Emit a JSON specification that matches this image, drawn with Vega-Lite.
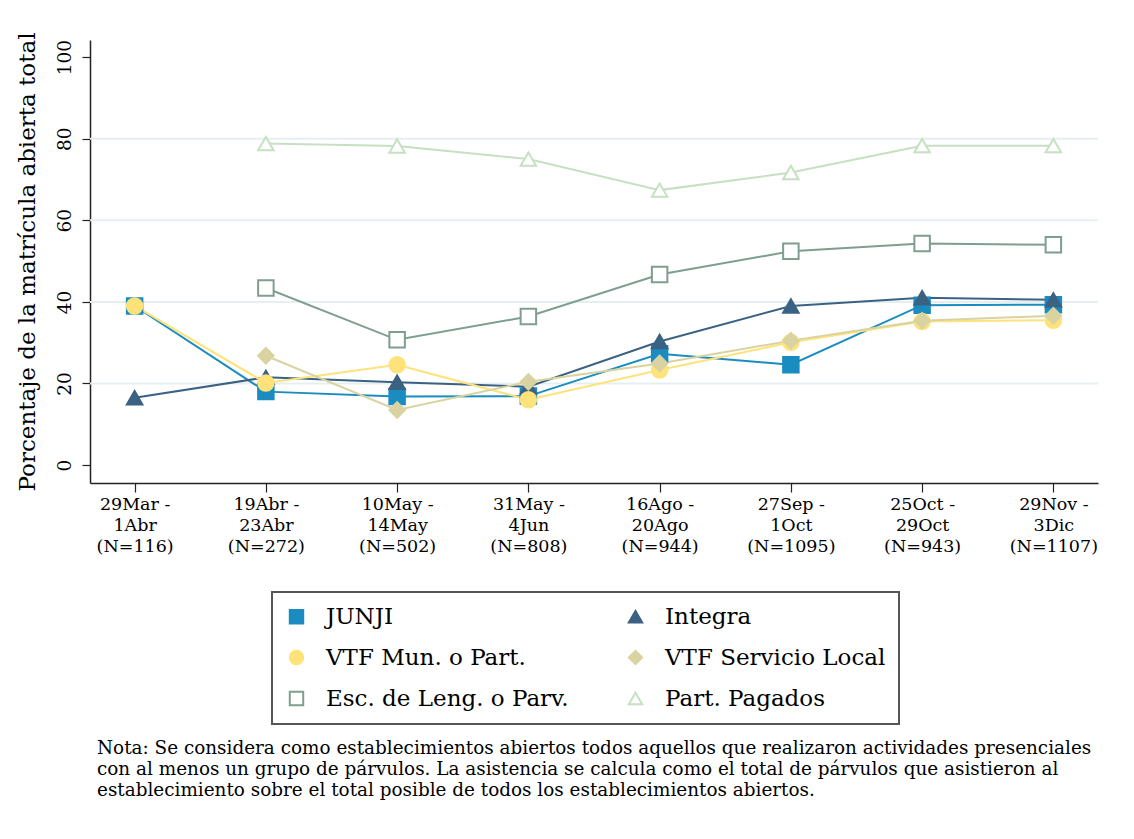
{
  "$schema": "https://vega.github.io/schema/vega-lite/v6.json",
  "width": 1008,
  "height": 443,
  "autosize": {"type": "none"},
  "padding": {"left": 90, "top": 40, "right": 36, "bottom": 356},
  "background": "white",
  "title": {
    "text": [
      "Nota: Se considera como establecimientos abiertos todos aquellos que realizaron actividades presenciales",
      "con al menos un grupo de párvulos. La asistencia se calcula como el total de párvulos que asistieron al",
      "establecimiento sobre el total posible de todos los establecimientos abiertos."
    ],
    "orient": "bottom",
    "anchor": "start",
    "frame": "group",
    "font": "DejaVu Serif",
    "fontSize": 18.4,
    "fontWeight": "normal",
    "color": "black",
    "lineHeight": 21,
    "offset": 14,
    "dx": 7
  },
  "datasets": {
    "grid": [{"v": 20}, {"v": 40}, {"v": 60}, {"v": 80}],
    "series": [
      {"serie": "JUNJI", "periodo": "29Mar -|1Abr|(N=116)", "valor": 39.0},
      {"serie": "JUNJI", "periodo": "19Abr -|23Abr|(N=272)", "valor": 18.0},
      {"serie": "JUNJI", "periodo": "10May -|14May|(N=502)", "valor": 16.8},
      {"serie": "JUNJI", "periodo": "31May -|4Jun|(N=808)", "valor": 16.9},
      {"serie": "JUNJI", "periodo": "16Ago -|20Ago|(N=944)", "valor": 27.3},
      {"serie": "JUNJI", "periodo": "27Sep -|1Oct|(N=1095)", "valor": 24.6},
      {"serie": "JUNJI", "periodo": "25Oct -|29Oct|(N=943)", "valor": 39.2},
      {"serie": "JUNJI", "periodo": "29Nov -|3Dic|(N=1107)", "valor": 39.3},
      {"serie": "Integra", "periodo": "29Mar -|1Abr|(N=116)", "valor": 16.5},
      {"serie": "Integra", "periodo": "19Abr -|23Abr|(N=272)", "valor": 21.5},
      {"serie": "Integra", "periodo": "10May -|14May|(N=502)", "valor": 20.3},
      {"serie": "Integra", "periodo": "31May -|4Jun|(N=808)", "valor": 19.2},
      {"serie": "Integra", "periodo": "16Ago -|20Ago|(N=944)", "valor": 30.3},
      {"serie": "Integra", "periodo": "27Sep -|1Oct|(N=1095)", "valor": 39.0},
      {"serie": "Integra", "periodo": "25Oct -|29Oct|(N=943)", "valor": 41.0},
      {"serie": "Integra", "periodo": "29Nov -|3Dic|(N=1107)", "valor": 40.5},
      {"serie": "VTF Mun. o Part.", "periodo": "29Mar -|1Abr|(N=116)", "valor": 39.0},
      {"serie": "VTF Mun. o Part.", "periodo": "19Abr -|23Abr|(N=272)", "valor": 20.1},
      {"serie": "VTF Mun. o Part.", "periodo": "10May -|14May|(N=502)", "valor": 24.6},
      {"serie": "VTF Mun. o Part.", "periodo": "31May -|4Jun|(N=808)", "valor": 16.0},
      {"serie": "VTF Mun. o Part.", "periodo": "16Ago -|20Ago|(N=944)", "valor": 23.3},
      {"serie": "VTF Mun. o Part.", "periodo": "27Sep -|1Oct|(N=1095)", "valor": 30.1},
      {"serie": "VTF Mun. o Part.", "periodo": "25Oct -|29Oct|(N=943)", "valor": 35.2},
      {"serie": "VTF Mun. o Part.", "periodo": "29Nov -|3Dic|(N=1107)", "valor": 35.5},
      {"serie": "VTF Servicio Local", "periodo": "19Abr -|23Abr|(N=272)", "valor": 26.8},
      {"serie": "VTF Servicio Local", "periodo": "10May -|14May|(N=502)", "valor": 13.5},
      {"serie": "VTF Servicio Local", "periodo": "31May -|4Jun|(N=808)", "valor": 20.4},
      {"serie": "VTF Servicio Local", "periodo": "16Ago -|20Ago|(N=944)", "valor": 24.9},
      {"serie": "VTF Servicio Local", "periodo": "27Sep -|1Oct|(N=1095)", "valor": 30.5},
      {"serie": "VTF Servicio Local", "periodo": "25Oct -|29Oct|(N=943)", "valor": 35.4},
      {"serie": "VTF Servicio Local", "periodo": "29Nov -|3Dic|(N=1107)", "valor": 36.6},
      {"serie": "Esc. de Leng. o Parv.", "periodo": "19Abr -|23Abr|(N=272)", "valor": 43.4},
      {"serie": "Esc. de Leng. o Parv.", "periodo": "10May -|14May|(N=502)", "valor": 30.7},
      {"serie": "Esc. de Leng. o Parv.", "periodo": "31May -|4Jun|(N=808)", "valor": 36.4},
      {"serie": "Esc. de Leng. o Parv.", "periodo": "16Ago -|20Ago|(N=944)", "valor": 46.7},
      {"serie": "Esc. de Leng. o Parv.", "periodo": "27Sep -|1Oct|(N=1095)", "valor": 52.4},
      {"serie": "Esc. de Leng. o Parv.", "periodo": "25Oct -|29Oct|(N=943)", "valor": 54.3},
      {"serie": "Esc. de Leng. o Parv.", "periodo": "29Nov -|3Dic|(N=1107)", "valor": 54.0},
      {"serie": "Part. Pagados", "periodo": "19Abr -|23Abr|(N=272)", "valor": 78.8},
      {"serie": "Part. Pagados", "periodo": "10May -|14May|(N=502)", "valor": 78.2},
      {"serie": "Part. Pagados", "periodo": "31May -|4Jun|(N=808)", "valor": 75.0},
      {"serie": "Part. Pagados", "periodo": "16Ago -|20Ago|(N=944)", "valor": 67.4},
      {"serie": "Part. Pagados", "periodo": "27Sep -|1Oct|(N=1095)", "valor": 71.7},
      {"serie": "Part. Pagados", "periodo": "25Oct -|29Oct|(N=943)", "valor": 78.3},
      {"serie": "Part. Pagados", "periodo": "29Nov -|3Dic|(N=1107)", "valor": 78.3}
    ]
  },
  "layer": [
    {
      "data": {"name": "grid"},
      "mark": {"type": "rule", "color": "#e5eff1", "strokeWidth": 2},
      "encoding": {
        "y": {
          "field": "v", "type": "quantitative",
          "scale": {"domain": [-4.4, 104.2], "nice": false, "zero": false},
          "axis": {"title": "Porcentaje de la matrícula abierta total", "titleFontSize": 23, "titleFontWeight": "normal", "titlePadding": 16, "values": [0, 20, 40, 60, 80, 100], "labelAngle": -90, "labelAlign": "center", "labelBaseline": "bottom", "labelFontSize": 18.5, "labelPadding": 8, "tickSize": 8, "tickColor": "#222", "domainColor": "#222", "domainWidth": 1.5, "tickWidth": 1.2, "grid": false}
        }
      }
    },
    {
      "data": {"name": "series"},
      "mark": {"type": "line", "strokeWidth": 2},
      "encoding": {
        "x": {
          "field": "periodo", "type": "ordinal",
          "scale": {"type": "point", "padding": 0.34, "domain": ["29Mar -|1Abr|(N=116)", "19Abr -|23Abr|(N=272)", "10May -|14May|(N=502)", "31May -|4Jun|(N=808)", "16Ago -|20Ago|(N=944)", "27Sep -|1Oct|(N=1095)", "25Oct -|29Oct|(N=943)", "29Nov -|3Dic|(N=1107)"]},
          "axis": {"title": null, "labelAngle": 0, "labelExpr": "split(datum.label, '|')", "labelFontSize": 17.5, "labelLineHeight": 21, "labelPadding": 3, "tickSize": 9, "tickColor": "#222", "domainColor": "#222", "domainWidth": 1.5, "tickWidth": 1.2, "grid": false, "labelBaseline": "top"}
        },
        "y": {
          "field": "valor", "type": "quantitative",
          "axis": {"title": "Porcentaje de la matrícula abierta total", "titleFontSize": 23, "titleFontWeight": "normal", "titlePadding": 16, "values": [0, 20, 40, 60, 80, 100], "labelAngle": -90, "labelAlign": "center", "labelBaseline": "bottom", "labelFontSize": 18.5, "labelPadding": 8, "tickSize": 8, "tickColor": "#222", "domainColor": "#222", "domainWidth": 1.5, "tickWidth": 1.2, "grid": false}
        },
        "stroke": {
          "field": "serie", "type": "nominal",
          "scale": {"domain": ["JUNJI", "VTF Mun. o Part.", "Esc. de Leng. o Parv.", "Integra", "VTF Servicio Local", "Part. Pagados"], "range": ["#1a8cc0", "#ffe27a", "#7f9e8f", "#3b6283", "#d8d3a0", "#c7e0c3"]},
          "legend": {"title": null}
        }
      }
    },
    {
      "data": {"name": "series"},
      "mark": {"type": "point", "filled": true, "strokeWidth": 2, "opacity": 1},
      "encoding": {
        "x": {"field": "periodo", "type": "ordinal"},
        "y": {"field": "valor", "type": "quantitative"},
        "stroke": {"field": "serie", "type": "nominal", "legend": {"title": null}},
        "fill": {
          "field": "serie", "type": "nominal",
          "scale": {"domain": ["JUNJI", "VTF Mun. o Part.", "Esc. de Leng. o Parv.", "Integra", "VTF Servicio Local", "Part. Pagados"], "range": ["#1a8cc0", "#ffe27a", "white", "#3b6283", "#d8d3a0", "white"]},
          "legend": {"title": null}
        },
        "shape": {
          "field": "serie", "type": "nominal",
          "scale": {"domain": ["JUNJI", "VTF Mun. o Part.", "Esc. de Leng. o Parv.", "Integra", "VTF Servicio Local", "Part. Pagados"], "range": ["square", "circle", "square", "triangle-up", "diamond", "triangle-up"]},
          "legend": {"title": null}
        },
        "size": {"value": 240}
      }
    }
  ],
  "config": {
    "view": {"stroke": null},
    "font": "DejaVu Serif",
    "axis": {"labelFont": "DejaVu Serif", "titleFont": "DejaVu Serif", "labelColor": "black", "titleColor": "black"},
    "legend": {
      "orient": "none",
      "legendX": 182,
      "legendY": 552,
      "columns": 2,
      "direction": "vertical",
      "labelFont": "DejaVu Serif",
      "labelFontSize": 23,
      "labelColor": "black",
      "labelLimit": 400,
      "labelOffset": 18,
      "symbolSize": 180,
      "symbolStrokeWidth": 2,
      "rowPadding": 17,
      "columnPadding": 55,
      "padding": 13,
      "strokeColor": "#555",
      "fillColor": "white",
      "strokeWidth": 2
    }
  }
}
